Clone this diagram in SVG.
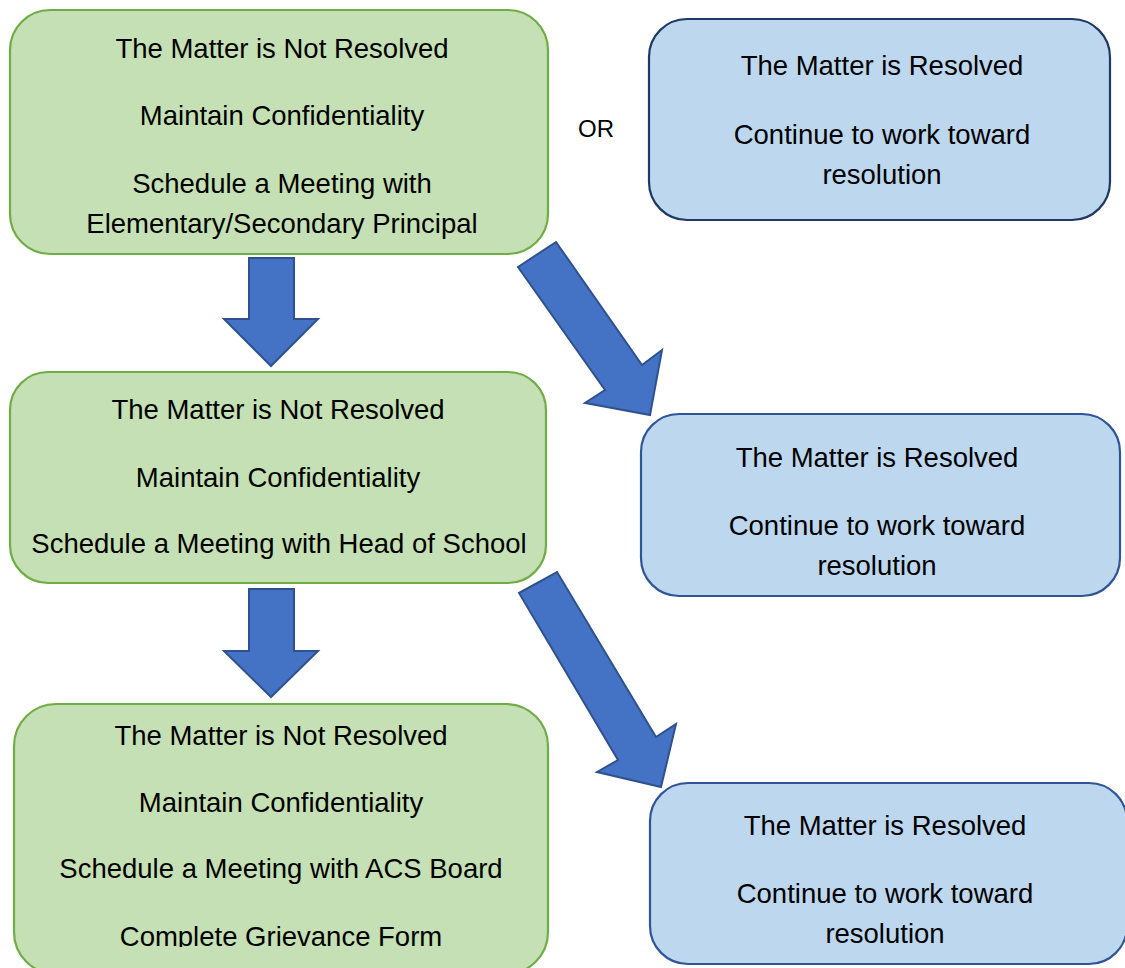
<svg xmlns="http://www.w3.org/2000/svg" width="1125" height="968" viewBox="0 0 1125 968">
<style>
.green{fill:#C5E0B4;stroke:#70AD47;stroke-width:2.2}
.blue{fill:#BDD7EE;stroke:#2F5597;stroke-width:2.2}
.blue1{fill:#BDD7EE;stroke:#1F3864;stroke-width:2.2}
.arrow{fill:#4472C4;stroke:#2F528F;stroke-width:2}
text{font-family:"Liberation Sans",Arial,sans-serif;font-size:27.5px;fill:#000;text-anchor:middle}
.or{font-size:24px}
</style>
<defs>
<clipPath id="clip3"><rect x="0" y="690" width="600" height="257"/></clipPath>
</defs>
<rect width="1125" height="968" fill="#fff"/>
<g id="connectors">
<polygon class="arrow" points="249,258 294,258 294,319 318,319 271,366 224,319 249,319"/>
<polygon class="arrow" points="249,589 294,589 294,651 318,651 271,697 224,651 249,651"/>
<polygon class="arrow" points="518,267 556,242 642,365 662,350 650,415 585,403 605,390"/>
<polygon class="arrow" points="519,593 557,572 656,737 676,724 661,787 597,772 618,760"/>
</g>
<g id="node-g1">
<rect class="green" x="10" y="10" width="538" height="244" rx="40"/>
<text x="282" y="58">The Matter is Not Resolved</text>
<text x="282" y="125">Maintain Confidentiality</text>
<text x="282" y="193">Schedule a Meeting with</text>
<text x="282" y="233">Elementary/Secondary Principal</text>
</g>
<g id="node-or">
<text class="or" x="596" y="137">OR</text>
</g>
<g id="node-b1">
<rect class="blue1" x="649" y="19" width="461" height="201" rx="38"/>
<text x="882" y="75">The Matter is Resolved</text>
<text x="882" y="144">Continue to work toward</text>
<text x="882" y="184">resolution</text>
</g>
<g id="node-g2">
<rect class="green" x="10" y="372" width="536" height="211" rx="38"/>
<text x="278" y="419">The Matter is Not Resolved</text>
<text x="278" y="487">Maintain Confidentiality</text>
<text x="279" y="553">Schedule a Meeting with Head of School</text>
</g>
<g id="node-b2">
<rect class="blue" x="641" y="414" width="479" height="182" rx="38"/>
<text x="877" y="467">The Matter is Resolved</text>
<text x="877" y="535">Continue to work toward</text>
<text x="877" y="575">resolution</text>
</g>
<g id="node-g3">
<rect class="green" x="14" y="704" width="534" height="270" rx="42"/>
<g clip-path="url(#clip3)">
<text x="281" y="745">The Matter is Not Resolved</text>
<text x="281" y="812">Maintain Confidentiality</text>
<text x="281" y="878">Schedule a Meeting with ACS Board</text>
<text x="281" y="946">Complete Grievance Form</text>
</g>
</g>
<g id="node-b3">
<rect class="blue" x="650" y="783" width="477" height="181" rx="38"/>
<text x="885" y="835">The Matter is Resolved</text>
<text x="885" y="903">Continue to work toward</text>
<text x="885" y="943">resolution</text>
</g>
</svg>
